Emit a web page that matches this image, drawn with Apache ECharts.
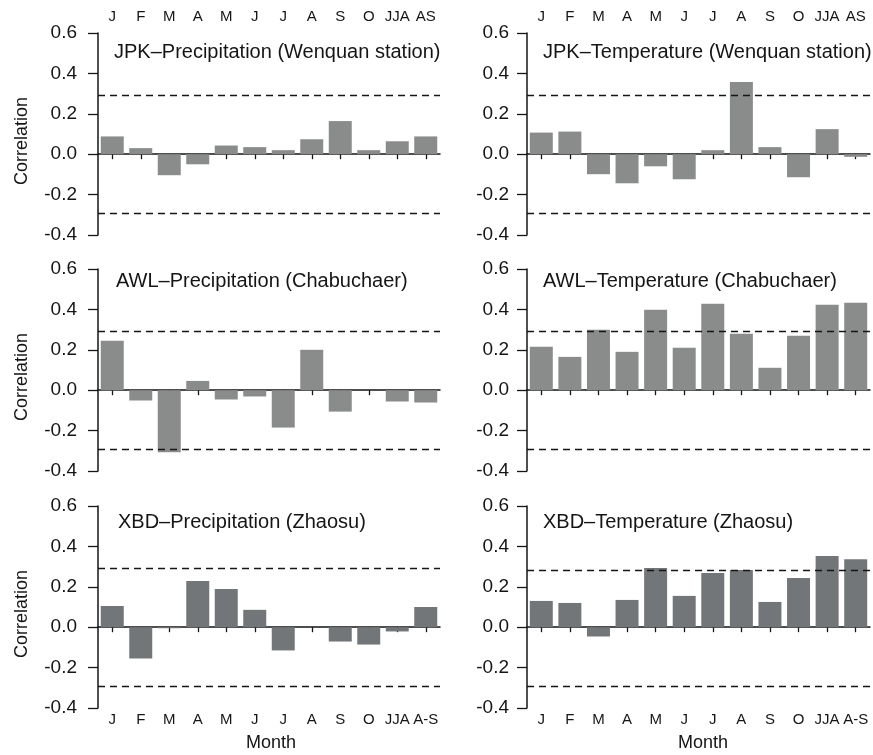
<!DOCTYPE html>
<html>
<head>
<meta charset="utf-8">
<script src="https://cdn.jsdelivr.net/npm/echarts@6/dist/echarts.min.js"></script>
<style>
html,body{margin:0;padding:0;background:#fff;}
#chart{width:873px;height:755px;}
</style>
</head>
<body>
<div id="chart"></div>
<script>
// ---- data ----
var months = ['J','F','M','A','M','J','J','A','S','O','JJA','AS'];
var monthsBottom = ['J','F','M','A','M','J','J','A','S','O','JJA','A-S'];
var yTicks = [-0.4, -0.2, 0.0, 0.2, 0.4, 0.6];

var panelTitles = [
  'JPK\u2013Precipitation (Wenquan station)',
  'JPK\u2013Temperature (Wenquan station)',
  'AWL\u2013Precipitation (Chabuchaer)',
  'AWL\u2013Temperature (Chabuchaer)',
  'XBD\u2013Precipitation (Zhaosu)',
  'XBD\u2013Temperature (Zhaosu)'
];
var jpkPrecip = [0.088, 0.030, -0.104, -0.050, 0.043, 0.035, 0.020, 0.074, 0.164, 0.020, 0.064, 0.088];
var jpkTemp   = [0.107, 0.112, -0.099, -0.144, -0.060, -0.124, 0.020, 0.357, 0.035, -0.114, 0.124, -0.013];
var awlPrecip = [0.245, -0.051, -0.307, 0.046, -0.046, -0.031, -0.185, 0.200, -0.106, 0.000, -0.056, -0.061];
var awlTemp   = [0.215, 0.165, 0.299, 0.190, 0.398, 0.210, 0.428, 0.279, 0.111, 0.269, 0.423, 0.433];
var xbdPrecip = [0.105, -0.155, -0.005, 0.229, 0.189, 0.086, -0.115, 0.000, -0.071, -0.086, -0.021, 0.100];
var xbdTemp   = [0.130, 0.120, -0.046, 0.135, 0.293, 0.155, 0.268, 0.283, 0.125, 0.243, 0.352, 0.337];
var thresholdsUpper = [0.295, 0.292, 0.293, 0.29, 0.291, 0.283];
var thresholdsLower = [-0.294, -0.29, -0.288, -0.295, -0.29, -0.29];
var panelValues = [jpkPrecip, jpkTemp, awlPrecip, awlTemp, xbdPrecip, xbdTemp];

// ---- layout ----
var FONT = '"Liberation Sans", Arial, Helvetica, sans-serif';
var INK = '#151515';
var colLeft = [98, 527];
var colWidth = [342, 343];
var rowTop = [33, 269, 506];
var plotH = 202;
var barColors = ['#8a8c8c', '#8a8c8c', '#8a8c8c', '#8a8c8c', '#737678', '#737678'];
var titlePos = [[114, 42], [543, 42], [116, 271], [543, 271], [118, 512], [543, 512]];

var grids = [], xAxes = [], yAxes = [], series = [], titles = [];
for (var i = 0; i < 6; i++) {
  var row = Math.floor(i / 2), col = i % 2;
  grids.push({left: colLeft[col], top: rowTop[row], width: colWidth[col], height: plotH, containLabel: false});
  var zeroPos = (row === 2) ? 'top' : 'bottom';
  xAxes.push({
    type: 'category', gridIndex: i, data: months, position: zeroPos,
    axisLine: {show: true, onZero: true, lineStyle: {color: INK, width: 1.5}},
    axisTick: {show: true, alignWithLabel: true, length: 5, inside: row === 2, lineStyle: {color: INK, width: 1.3}},
    axisLabel: {show: false}, splitLine: {show: false}
  });
  if (row === 0 || row === 2) {
    xAxes.push({
      type: 'category', gridIndex: i, data: row === 0 ? months : monthsBottom,
      position: row === 0 ? 'top' : 'bottom',
      axisLine: {show: false, onZero: false}, axisTick: {show: false},
      axisLabel: {show: true, interval: 0, margin: row === 0 ? 9 : 4, fontSize: 15, color: INK, fontFamily: FONT},
      splitLine: {show: false}
    });
  }
  yAxes.push({
    type: 'value', gridIndex: i, min: yTicks[0], max: yTicks[yTicks.length - 1], interval: 0.2,
    axisLine: {show: true, onZero: false, lineStyle: {color: INK, width: 1.5}},
    axisTick: {show: true, length: 10, lineStyle: {color: INK, width: 1.3}},
    axisLabel: {show: true, margin: col === 0 ? 21 : 18, fontSize: 19, color: INK, fontFamily: FONT,
      formatter: function (v) { return v.toFixed(1); }},
    splitLine: {show: false}
  });
  series.push({
    type: 'bar', xAxisIndex: xAxes.length - (row === 1 ? 1 : 2), yAxisIndex: i,
    data: panelValues[i], barWidth: 23,
    itemStyle: {color: barColors[i]},
    silent: true, animation: false,
    markLine: {
      silent: true, symbol: 'none', animation: false,
      label: {show: false},
      lineStyle: {type: [7, 5], color: INK, width: 1.3},
      data: [{yAxis: thresholdsUpper[i]}, {yAxis: thresholdsLower[i]}]
    }
  });
  titles.push({
    text: panelTitles[i], left: titlePos[i][0], top: titlePos[i][1], padding: 0,
    textStyle: {fontSize: 20, fontWeight: 'normal', color: INK, fontFamily: FONT}
  });
}

var graphics = [];
[141, 377, 614].forEach(function (cy) {
  graphics.push({type: 'text', x: 22, y: cy, rotation: Math.PI / 2,
    style: {text: 'Correlation', fill: INK, font: '18px ' + FONT, textAlign: 'center', textVerticalAlign: 'middle'}});
});
[[271, 743], [703, 743]].forEach(function (p) {
  graphics.push({type: 'text', x: p[0], y: p[1],
    style: {text: 'Month', fill: INK, font: '18px ' + FONT, textAlign: 'center', textVerticalAlign: 'middle'}});
});

var chart = echarts.init(document.getElementById('chart'), null, {renderer: 'canvas'});
chart.setOption({
  animation: false,
  backgroundColor: '#fff',
  title: titles,
  grid: grids,
  xAxis: xAxes,
  yAxis: yAxes,
  series: series,
  graphic: graphics
});
</script>
</body>
</html>
